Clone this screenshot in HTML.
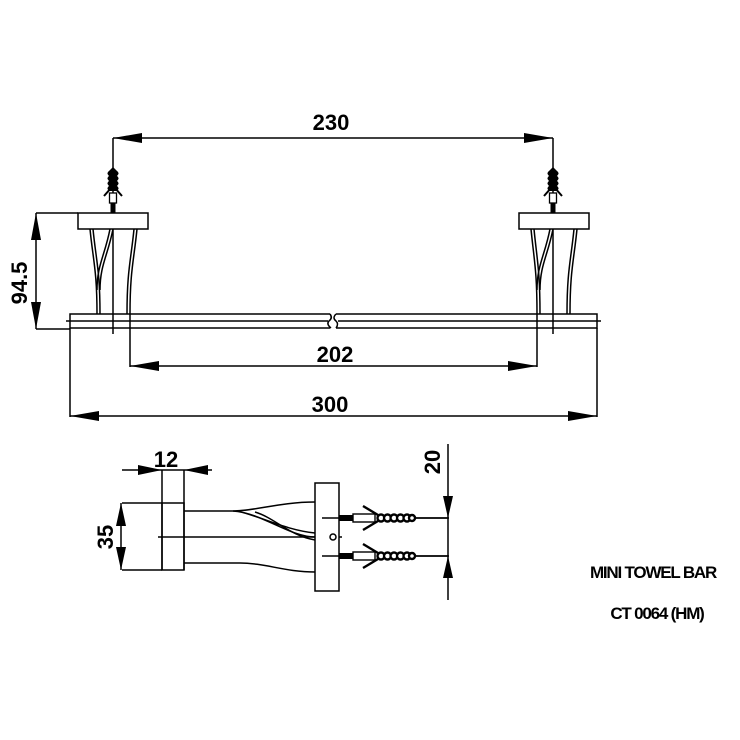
<!DOCTYPE html>
<html><head><meta charset="utf-8"><style>
html,body{margin:0;padding:0;background:#fff}
svg{display:block}
text{font-family:"Liberation Sans Narrow","Liberation Sans",sans-serif;font-weight:bold;fill:#000}
</style></head><body>
<svg width="740" height="740" viewBox="0 0 740 740" xmlns="http://www.w3.org/2000/svg">
<defs>
<g id="va">
  <rect x="-2.5" y="-10" width="5" height="10" fill="#000"/>
  <rect x="-3.5" y="-20" width="7" height="10" fill="#fff" stroke="#000" stroke-width="1.3"/>
  <path d="M-9,-17 L-2,-25 M9,-17 L2,-25" stroke="#000" stroke-width="2" fill="none"/>
  <path d="M-4,-22 Q-7,-25 -4,-27 Q-7,-30 -4,-32 Q-7,-35 -4,-37 Q-7,-40 -4,-42 L0,-46 L4,-42 Q7,-40 4,-37 Q7,-35 4,-32 Q7,-30 4,-27 Q7,-25 4,-22 Z" fill="#000"/>
</g>
<g id="ha">
  <rect x="0" y="-3" width="14" height="6" fill="#000"/>
  <rect x="14" y="-4" width="22" height="8" fill="#fff" stroke="#000" stroke-width="1.4"/>
  <path d="M24,-12 L39,-3 M24,12 L39,3" stroke="#000" stroke-width="2.4" fill="none"/>
  <g fill="#fff" stroke="#000" stroke-width="2.4">
    <circle cx="42" cy="0" r="3.5"/><circle cx="48.5" cy="0" r="3.5"/><circle cx="55" cy="0" r="3.5"/><circle cx="61.5" cy="0" r="3.5"/><circle cx="68" cy="0" r="3.5"/><circle cx="73" cy="0" r="3"/>
  </g>
  <line x1="76" y1="0" x2="110" y2="0" stroke="#000" stroke-width="1.5"/>
</g>
</defs>
<g stroke="#000" stroke-width="1.5" fill="none">
  <line x1="113" y1="138" x2="553" y2="138"/>
  <line x1="113" y1="138" x2="113" y2="334"/>
  <line x1="553" y1="138" x2="553" y2="334"/>
  <rect x="78" y="213" width="70" height="16" fill="#fff"/>
  <rect x="519" y="213" width="70" height="16" fill="#fff"/>
  <line x1="36" y1="213" x2="78" y2="213"/>
  <line x1="36" y1="213" x2="36" y2="329"/>
  <line x1="36" y1="329" x2="70" y2="329"/>
  <path d="M90,229 C93,260 97,270 97,314 M93,229 C96,260 100,270 100,314"/>
  <path d="M113,229 C108,255 100,265 100,290 M110,229 C105,255 97,265 97,290"/>
  <path d="M137,229 C134,260 130,270 130,314 M134,229 C131,260 127,270 127,314"/>
  <path d="M531,229 C534,260 537,270 537,314 M534,229 C537,260 540,270 540,314"/>
  <path d="M553,229 C548,255 540,265 540,290 M550,229 C545,255 537,265 537,290"/>
  <path d="M577,229 C574,260 570,270 570,314 M574,229 C571,260 567,270 567,314"/>
  <path d="M330,314 L70,314 L70,328 L330,328"/>
  <path d="M336,314 L597,314 L597,328 L336,328"/>
  <line x1="66" y1="321" x2="328" y2="321"/>
  <line x1="338" y1="321" x2="601" y2="321"/>
  <path d="M330,314 Q333,318 329,321 Q326,324 331,328 M336,314 Q332,318 336,321 Q339,324 336,328"/>
  <line x1="130" y1="314" x2="130" y2="367"/>
  <line x1="537" y1="314" x2="537" y2="367"/>
  <line x1="130" y1="366" x2="537" y2="366"/>
  <line x1="70" y1="328" x2="70" y2="417"/>
  <line x1="597" y1="328" x2="597" y2="417"/>
  <line x1="70" y1="416" x2="597" y2="416"/>

  <line x1="122" y1="470" x2="212" y2="470"/>
  <line x1="162" y1="470" x2="162" y2="570"/>
  <line x1="184" y1="470" x2="184" y2="570"/>
  <rect x="162" y="503" width="22" height="67"/>
  <line x1="122" y1="503" x2="162" y2="503"/>
  <line x1="122" y1="570" x2="162" y2="570"/>
  <line x1="121" y1="503" x2="121" y2="570"/>
  <path d="M184,511 L233,511 C255,511 280,502 315,502"/>
  <path d="M184,563 L240,563 C265,563 285,572 315,572"/>
  <line x1="158" y1="537" x2="342" y2="537"/>
  <path d="M233,511 C262,513 290,537 315,537 M237,511 C260,516 285,530 315,533"/>
  <path d="M255,512 C275,518 290,536 315,540"/>
  <rect x="315" y="483" width="24" height="108" fill="#fff"/>
  <circle cx="333" cy="537" r="3"/>
  <line x1="322" y1="518" x2="339" y2="518"/>
  <line x1="322" y1="556" x2="339" y2="556"/>
  <line x1="448" y1="444" x2="448" y2="600"/>
  <line x1="413" y1="518" x2="448" y2="518"/>
  <line x1="413" y1="556" x2="448" y2="556"/>
</g>
<g fill="#000">
  <polygon points="113,138 142,133 142,143"/>
  <polygon points="553,138 524,133 524,143"/>
  <polygon points="36,213 31,240 41,240"/>
  <polygon points="36,329 31,302 41,302"/>
  <polygon points="130,366 159,361 159,371"/>
  <polygon points="537,366 508,361 508,371"/>
  <polygon points="70,416 99,411 99,421"/>
  <polygon points="597,416 568,411 568,421"/>
  <polygon points="162,470 138,465 138,475"/>
  <polygon points="184,470 208,465 208,475"/>
  <polygon points="121,503 116,526 126,526"/>
  <polygon points="121,570 116,547 126,547"/>
  <polygon points="448,518 443,496 453,496"/>
  <polygon points="448,556 443,578 453,578"/>
</g>
<use href="#va" x="113" y="213"/>
<use href="#va" x="553" y="213"/>
<use href="#ha" x="339" y="518"/>
<use href="#ha" x="339" y="556"/>
<g font-size="22">
  <text x="331" y="130" text-anchor="middle">230</text>
  <text x="335" y="362" text-anchor="middle">202</text>
  <text x="330" y="412" text-anchor="middle">300</text>
  <text x="166" y="467" text-anchor="middle">12</text>
  <text transform="translate(27,283) rotate(-90)" text-anchor="middle">94.5</text>
  <text transform="translate(113,537) rotate(-90)" text-anchor="middle">35</text>
  <text transform="translate(440,462) rotate(-90)" text-anchor="middle">20</text>
</g>
<g font-size="17" letter-spacing="-1.2">
  <text x="653" y="578" text-anchor="middle">MINI TOWEL BAR</text>
  <text x="657" y="619" text-anchor="middle">CT 0064 (HM)</text>
</g>
</svg>
</body></html>
